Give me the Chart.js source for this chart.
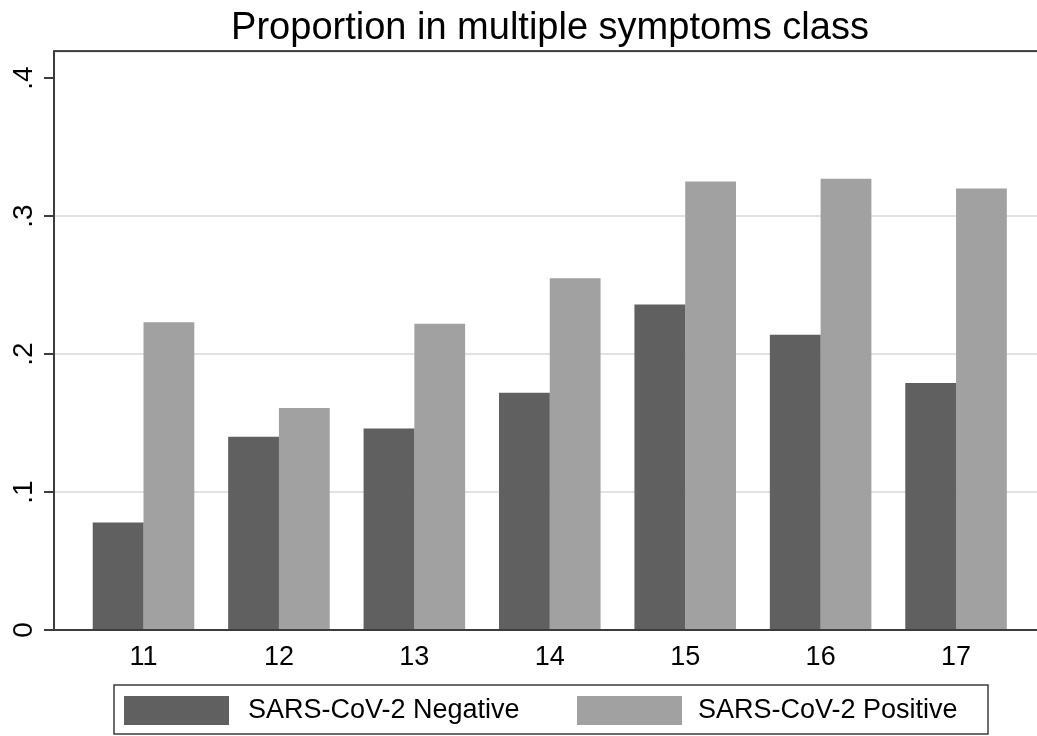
<!DOCTYPE html>
<html lang="en">
<head>
    <meta charset="UTF-8">
    <title>Proportion in multiple symptoms class</title>
    <script src="https://cdn.jsdelivr.net/npm/chart.js"></script>
    <style>
        html, body {
            margin: 0;
            padding: 0;
            background: white;
            overflow: hidden;
        }
        .chart-container {
            width: 1037px;
            height: 736px;
            overflow: hidden;
        }
    </style>
</head>
<body>
    <div class="chart-container">
        <canvas id="barChart" width="1100" height="736"></canvas>
    </div>

    <script>
        // values
        const categories = [11, 12, 13, 14, 15, 16, 17];
        const negative = [0.078, 0.140, 0.146, 0.172, 0.236, 0.214, 0.179];
        const positive = [0.223, 0.161, 0.222, 0.255, 0.325, 0.327, 0.320];
        const yTicks = [0, 0.1, 0.2, 0.3, 0.4];
        const yTickLabels = ['0', '.1', '.2', '.3', '.4'];
        const seriesNames = ['SARS-CoV-2 Negative', 'SARS-CoV-2 Positive'];

        const FONT = "'Liberation Sans', Arial, sans-serif";
        const AXIS = '#3c3c3c';
        Chart.defaults.font.family = FONT;
        Chart.defaults.color = '#000';

        // frame, rotated y labels and boxed legend (Stata look)
        const stataDecor = {
            id: 'stataDecor',
            afterDatasetsDraw(chart) {
                const ctx = chart.ctx;
                const a = chart.chartArea;
                ctx.save();
                ctx.strokeStyle = AXIS;
                ctx.lineWidth = 2;
                ctx.strokeRect(a.left, a.top, a.right - a.left, a.bottom - a.top);
                ctx.restore();
            },
            afterDraw(chart) {
                const ctx = chart.ctx;
                const a = chart.chartArea;
                const yScale = chart.scales.y;

                ctx.save();
                ctx.font = '28px ' + FONT;
                ctx.fillStyle = '#000';
                ctx.textAlign = 'center';
                ctx.textBaseline = 'middle';
                yTicks.forEach((v, i) => {
                    const py = yScale.getPixelForValue(v);
                    ctx.save();
                    ctx.translate(24, py);
                    ctx.rotate(-Math.PI / 2);
                    ctx.fillText(yTickLabels[i], 0, 0);
                    ctx.restore();
                });

                // legend box
                ctx.font = '27px ' + FONT;
                const cx = (a.left + a.right) / 2;
                const bx = cx - 437, by = 685, bw = 874, bh = 49;
                ctx.strokeStyle = AXIS;
                ctx.lineWidth = 1.5;
                ctx.strokeRect(bx, by, bw, bh);
                const offsets = [[10, 134], [463, 584]];
                ctx.textAlign = 'left';
                chart.data.datasets.forEach((ds, i) => {
                    ctx.fillStyle = ds.backgroundColor;
                    ctx.fillRect(bx + offsets[i][0], by + 11, 105, 29);
                    ctx.fillStyle = '#000';
                    ctx.fillText(seriesNames[i], bx + offsets[i][1], by + bh / 2 + 1);
                });
                ctx.restore();
            }
        };

        new Chart(document.getElementById('barChart'), {
            type: 'bar',
            data: {
                labels: categories,
                datasets: [
                    {
                        label: seriesNames[0],
                        data: negative,
                        backgroundColor: '#606060',
                        borderWidth: 0,
                        barPercentage: 1,
                        categoryPercentage: 0.75
                    },
                    {
                        label: seriesNames[1],
                        data: positive,
                        backgroundColor: '#a1a1a1',
                        borderWidth: 0,
                        barPercentage: 1,
                        categoryPercentage: 0.75
                    }
                ]
            },
            options: {
                responsive: false,
                animation: false,
                // left padding + thin y axis keeps the title centred on the plot
                layout: {
                    padding: { left: 52, right: 52, top: 0, bottom: 0 }
                },
                scales: {
                    x: {
                        type: 'linear',
                        offset: false,
                        min: 10.339,
                        max: 17.679,
                        afterBuildTicks: scale => {
                            scale.ticks = categories.map(v => ({ value: v }));
                        },
                        afterFit: scale => { scale.height = 106; },
                        grid: { display: false, drawTicks: false },
                        border: { display: false },
                        ticks: {
                            padding: 11,
                            color: '#000',
                            font: { size: 27 },
                            callback: v => String(v)
                        }
                    },
                    y: {
                        min: 0,
                        max: 0.4196,
                        afterBuildTicks: scale => {
                            scale.ticks = yTicks.map(v => ({ value: v }));
                        },
                        afterFit: scale => { scale.width = 2; },
                        border: { display: false },
                        grid: {
                            color: c => (c.tick && c.tick.value > 0.05 && c.tick.value < 0.35) ? '#e2e2e2' : 'rgba(0,0,0,0)',
                            lineWidth: 2,
                            drawTicks: true,
                            tickLength: 10,
                            tickColor: AXIS,
                            tickWidth: 2
                        },
                        ticks: { display: false }
                    }
                },
                plugins: {
                    legend: { display: false },
                    tooltip: { enabled: false },
                    title: {
                        display: true,
                        text: 'Proportion in multiple symptoms class',
                        color: '#000',
                        font: { size: 38, weight: 'normal', lineHeight: 1.2 },
                        padding: { top: 5.5, bottom: 0 }
                    }
                }
            },
            plugins: [stataDecor]
        });
    </script>
</body>
</html>
